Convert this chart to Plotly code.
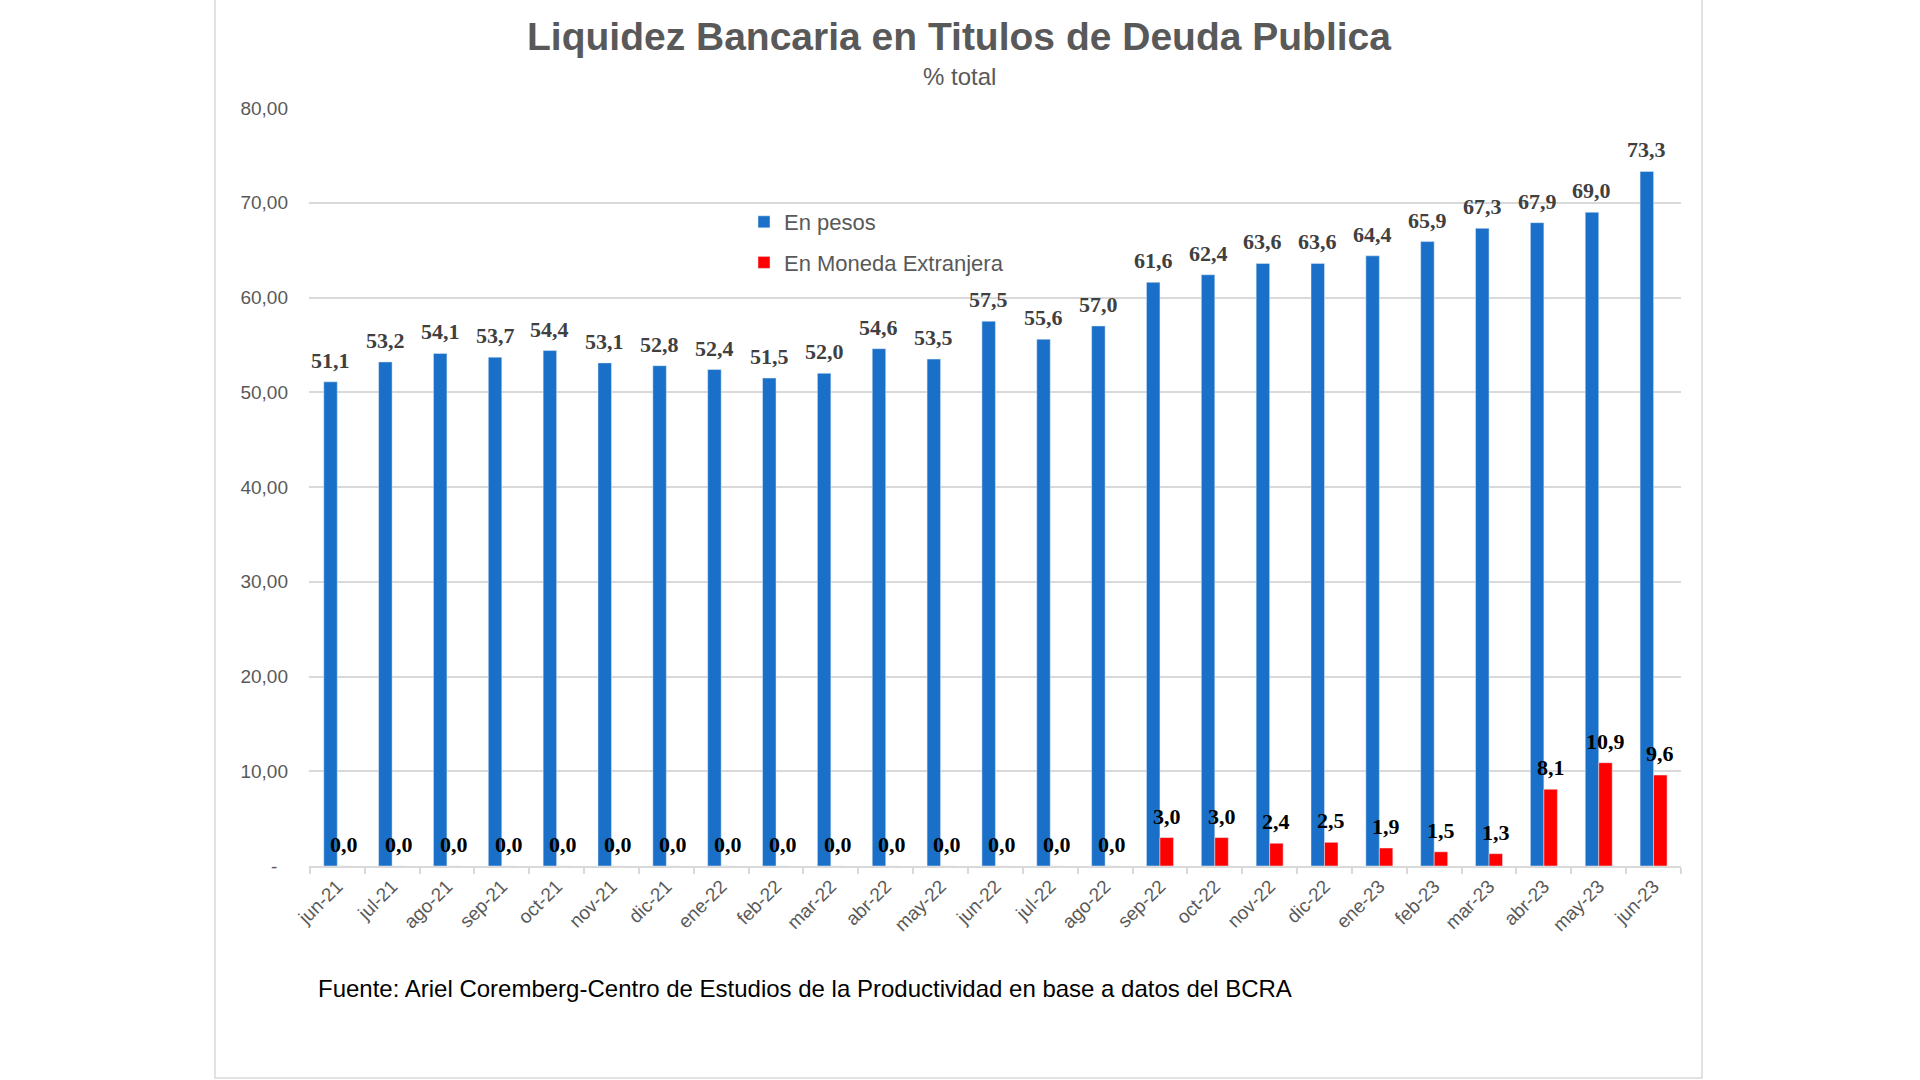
import plotly.graph_objects as go

categories = ["jun-21", "jul-21", "ago-21", "sep-21", "oct-21", "nov-21", "dic-21",
              "ene-22", "feb-22", "mar-22", "abr-22", "may-22", "jun-22", "jul-22",
              "ago-22", "sep-22", "oct-22", "nov-22", "dic-22", "ene-23", "feb-23",
              "mar-23", "abr-23", "may-23", "jun-23"]
en_pesos = [51.1, 53.2, 54.1, 53.7, 54.4, 53.1, 52.8, 52.4, 51.5, 52.0, 54.6, 53.5,
            57.5, 55.6, 57.0, 61.6, 62.4, 63.6, 63.6, 64.4, 65.9, 67.3, 67.9, 69.0, 73.3]
en_moneda_ext = [0.0, 0.0, 0.0, 0.0, 0.0, 0.0, 0.0, 0.0, 0.0, 0.0, 0.0, 0.0,
                 0.0, 0.0, 0.0, 3.0, 3.0, 2.4, 2.5, 1.9, 1.5, 1.3, 8.1, 10.9, 9.6]
y_tickvals = [0, 10, 20, 30, 40, 50, 60, 70, 80]
y_ticktext = ["-\u00a0\u00a0", "10,00", "20,00", "30,00", "40,00", "50,00", "60,00", "70,00", "80,00"]

BLUE = "#1a70c8"
RED = "#ff0000"
GREY = "#595959"
SANS = "Liberation Sans, Arial, sans-serif"
SERIF = "Liberation Serif, Times New Roman, serif"

W, H = 1920, 1080
ML, MR, MT, MB = 309, 239, 108, 214
plot_w = W - ML - MR
plot_h = H - MT - MB
bargap = 0.508
bar_px = plot_w / len(categories) * (1 - bargap) / 2


def fmt(v):
    return f"{v:.1f}".replace(".", ",")


def px_x(px):
    return (px - ML) / plot_w


def px_y(py):
    return (H - MB - py) / plot_h


fig = go.Figure()
fig.add_trace(go.Bar(x=categories, y=en_pesos, name="En pesos", marker_color=BLUE,
                     legendgroup="a"))
fig.add_trace(go.Bar(x=categories, y=en_moneda_ext, name="En Moneda Extranjera",
                     marker_color=RED, legendgroup="b"))

annotations = []
for c, v in zip(categories, en_pesos):
    annotations.append(dict(x=c, y=v, xref="x", yref="y", text=fmt(v), showarrow=False,
                            xanchor="center", yanchor="bottom", xshift=-bar_px / 2, yshift=7,
                            font=dict(family=SERIF, size=22, color="#404040", weight="bold")))
for c, v in zip(categories, en_moneda_ext):
    annotations.append(dict(x=c, y=v, xref="x", yref="y", text=fmt(v), showarrow=False,
                            xanchor="center", yanchor="bottom", xshift=bar_px / 2, yshift=7,
                            font=dict(family=SERIF, size=22, color="#000000", weight="bold")))

# title, subtitle, source
annotations.append(dict(x=px_x(959), y=px_y(37), xref="paper", yref="paper",
                        text="<b>Liquidez Bancaria en Titulos de Deuda Publica</b>",
                        showarrow=False, xanchor="center", yanchor="middle",
                        font=dict(family=SANS, size=39, color=GREY)))
annotations.append(dict(x=px_x(959), y=px_y(76), xref="paper", yref="paper",
                        text="% total", showarrow=False, xanchor="center", yanchor="middle",
                        font=dict(family=SANS, size=24, color=GREY)))
annotations.append(dict(x=px_x(316), y=px_y(988), xref="paper", yref="paper",
                        text="Fuente: Ariel Coremberg-Centro de Estudios de la Productividad en base a datos del BCRA",
                        showarrow=False, xanchor="left", yanchor="middle",
                        font=dict(family=SANS, size=24, color="#000000")))

fig.update_layout(
    width=W, height=H,
    margin=dict(l=ML, r=MR, t=MT, b=MB, autoexpand=False),
    paper_bgcolor="white", plot_bgcolor="white",
    barmode="group", bargap=bargap, bargroupgap=0,
    showlegend=True,
    legend=dict(x=px_x(744), y=px_y(201), xanchor="left", yanchor="top",
                font=dict(family=SANS, size=22, color=GREY),
                bgcolor="rgba(0,0,0,0)", tracegroupgap=9, traceorder="grouped"),
    annotations=annotations,
    shapes=[dict(type="rect", xref="paper", yref="paper",
                 x0=px_x(215), x1=px_x(1702), y0=px_y(1078), y1=px_y(-10),
                 line=dict(color="#d9d9d9", width=1.5), layer="below")],
    xaxis=dict(type="category", tickangle=-45, tickfont=dict(family=SANS, size=19, color=GREY),
               showline=True, linecolor="#d9d9d9", linewidth=1.5,
               ticks="outside", tickson="boundaries", ticklen=6, tickcolor="#d9d9d9",
               tickwidth=1.5, showgrid=False),
    yaxis=dict(range=[0, 80], tickvals=y_tickvals, ticktext=y_ticktext,
               tickfont=dict(family=SANS, size=19, color=GREY),
               showgrid=True, gridcolor="#d9d9d9", gridwidth=1.5,
               zeroline=False, showline=False, ticks="", ticklabelstandoff=20),
)

fig.write_html("out.html", config={"displayModeBar": False},
               post_script="document.body.style.margin='0';document.body.style.overflow='hidden';")
